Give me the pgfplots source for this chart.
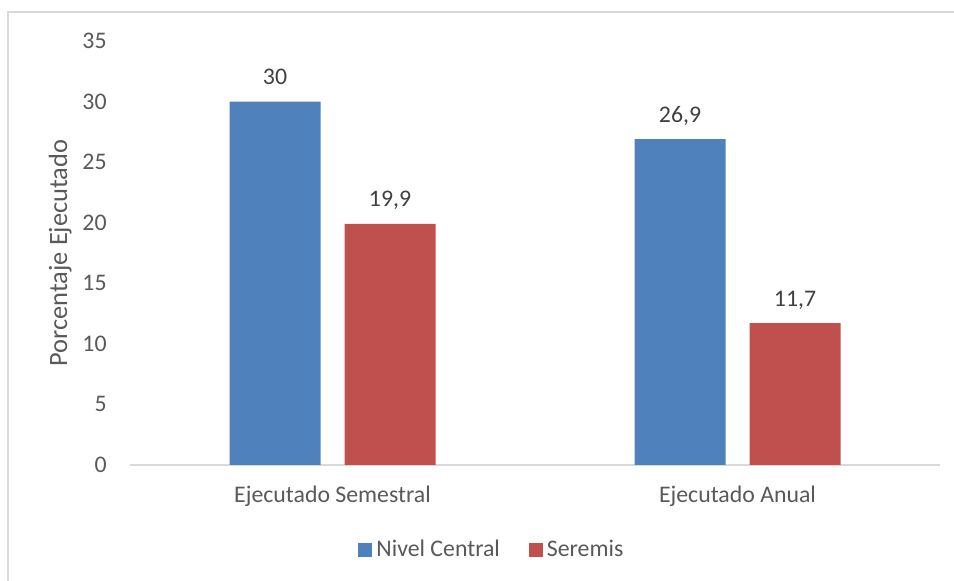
\documentclass[border=0pt]{standalone}
\usepackage{fontspec}
\setmainfont{Carlito}
\usepackage{pgfplots}
\pgfplotsset{compat=1.18}

\definecolor{ncblue}{HTML}{4F81BD}
\definecolor{serred}{HTML}{C0504D}
\definecolor{linegray}{HTML}{D9D9D9}
\definecolor{txtgray}{HTML}{595959}
\definecolor{lblgray}{HTML}{404040}

\begin{document}
\begin{tikzpicture}[font=\fontsize{11.9pt}{14pt}\selectfont]
\useasboundingbox (0,0) rectangle (477pt,290.5pt);
% chart frame (only top and left edges visible)
\draw[linegray, line width=0.75pt] (4pt,0) -- (4pt,284.5pt) -- (477pt,284.5pt);

\begin{axis}[
    at={(65pt,58pt)}, anchor=south west,
    scale only axis,
    width=405pt, height=212pt,
    ybar=12pt, bar width=45.5pt,
    xmin=-0.5, xmax=1.5,
    ymin=0, ymax=35,
    ytick={0,5,...,35},
    xtick={0,1},
    xticklabels={Ejecutado Semestral, Ejecutado Anual},
    axis x line=bottom, axis y line=left,
    x axis line style={-, draw=linegray, line width=0.75pt},
    y axis line style={draw=none},
    major tick length=0pt,
    tick label style={text=txtgray},
    /pgf/number format/assume math mode=true,
    /pgf/number format/use comma,
    yticklabel style={anchor=east, inner sep=0pt, xshift=-11.5pt},
    xticklabel style={anchor=base, inner sep=0pt, yshift=-19pt},
    ylabel={Porcentaje Ejecutado},
    ylabel style={at={(axis description cs:-0.086,0.5)}, anchor=center, text=txtgray,
        inner sep=0pt, font=\fontsize{13.2pt}{15pt}\selectfont},
    nodes near coords,
    nodes near coords style={anchor=base, inner sep=0pt, yshift=8.5pt, text=lblgray},
    legend style={at={(axis description cs:0.448,-0.2005)}, anchor=center,
        draw=none, text=txtgray, font=\fontsize{11.9pt}{14pt}\selectfont},
    legend columns=2,
    legend image code/.code={\fill[#1] (0pt,-3.5pt) rectangle (7pt,3.5pt);},
    /tikz/every even column/.append style={column sep=12.5pt},
]
\addplot[fill=ncblue, draw=none] coordinates {(0,30) (1,26.9)};
\addplot[fill=serred, draw=none] coordinates {(0,19.9) (1,11.7)};
\legend{Nivel Central, Seremis}
\end{axis}
\end{tikzpicture}
\end{document}
